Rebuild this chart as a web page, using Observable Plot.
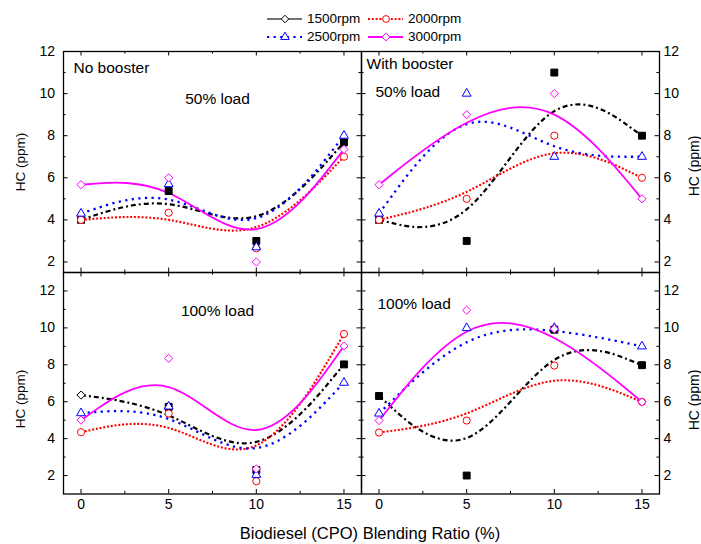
<!DOCTYPE html>
<html>
<head>
<meta charset="utf-8">
<script src="https://cdn.jsdelivr.net/npm/d3@7"></script>
<script src="https://cdn.jsdelivr.net/npm/@observablehq/plot@0.6"></script>
<style>
  html, body { margin: 0; padding: 0; background: #fff; overflow: hidden; }
  #fig { position: relative; width: 701px; height: 544px; font-family: "Liberation Sans", Arial, sans-serif; color: #000; }
  #fig svg { position: absolute; left: 0; top: 0; }
  .lbl { position: absolute; white-space: nowrap; line-height: 1; }
  .rot { transform: translate(-50%, -50%) rotate(-90deg); }
  .leg { position: absolute; font-size: 13.5px; line-height: 1; white-space: nowrap; }
</style>
</head>
<body>
<div id="fig"></div>
<script>
// ---------- data ----------
const blends = [0, 5, 10, 15];
const series = ["1500rpm", "2000rpm", "2500rpm", "3000rpm"];
const xTickLabels = [0, 5, 10, 15];
const yTickLabels = [2, 4, 6, 8, 10, 12];

// No booster, 50% load
const nb50_1500 = [4.0, 5.37, 3.0, 7.68];
const nb50_2000 = [4.0, 4.34, 2.65, 7.0];
const nb50_2500 = [4.3, 5.7, 2.7, 8.0];
const nb50_3000 = [5.67, 6.0, 2.0, 7.35];

// With booster, 50% load
const wb50_1500 = [4.0, 3.0, 11.0, 8.0];
const wb50_2000 = [4.0, 5.0, 8.0, 6.0];
const wb50_2500 = [4.3, 10.0, 7.0, 7.0];
const wb50_3000 = [5.67, 9.0, 10.0, 5.0];

// No booster, 100% load
const nb100_1500 = [6.36, 5.72, 2.3, 8.02];
const nb100_2000 = [4.35, 5.36, 1.69, 9.67];
const nb100_2500 = [5.38, 5.74, 2.04, 7.03];
const nb100_3000 = [5.0, 8.35, 2.36, 9.02];

// With booster, 100% load
const wb100_1500 = [6.31, 2.0, 9.9, 7.98];
const wb100_2000 = [4.33, 4.98, 7.96, 5.99];
const wb100_2500 = [5.36, 9.99, 10.0, 9.0];
const wb100_3000 = [4.98, 10.96, 9.94, 5.99];

// ---------- styling ----------
const W = 701, H = 544;
const FONT = '"Liberation Sans", Arial, sans-serif';
const sty = {
  "1500rpm": {stroke: "#000000", dash: "5,3,2,3", sw: 2.2, symbol: "square", fill: "#000000", r: 3.9},
  "2000rpm": {stroke: "#ff0000", dash: "2,1.8", sw: 2.1, symbol: "circle", fill: "white", r: 3.6},
  "2500rpm": {stroke: "#0000ff", dash: "2.2,4.4", sw: 2.3, symbol: "triangle", fill: "white", r: 3.3},
  "3000rpm": {stroke: "#ff00ff", dash: null, sw: 1.8, symbol: "diamond2", fill: "white", r: 3.7}
};

function rowsOf(vals) {
  const out = [];
  series.forEach((s, i) => vals[i].forEach((v, j) => out.push({series: s, blend: blends[j], hc: v})));
  return out;
}

const fig = document.getElementById("fig");
const xMinor = [2.5, 7.5, 12.5];

function panel({vals, yDomain, fx0, fx1, fy0, fy1, xAxis, ySide, notes, openBlack = []}) {
  const rows = rowsOf(vals);
  const fw = fx1 - fx0, fh = fy1 - fy0;
  const yMinor = d3.range(Math.ceil(yDomain[0]), Math.floor(yDomain[1]) + 1).filter(v => v % 2 === 1 && v > yDomain[0] && v < yDomain[1]);
  const maj = 4.5, mnr = 2.6;
  const tk = {stroke: "black", strokeWidth: 1};
  const marks = [
    Plot.frame({stroke: "black", strokeWidth: 1.3}),
    Plot.tickX(xTickLabels, {x: d => d, insetTop: fh - maj, ...tk}),
    Plot.tickX(xTickLabels, {x: d => d, insetBottom: fh - maj, ...tk}),
    Plot.tickX(xMinor, {x: d => d, insetTop: fh - mnr, ...tk}),
    Plot.tickX(xMinor, {x: d => d, insetBottom: fh - mnr, ...tk}),
    Plot.tickY(yTickLabels, {y: d => d, insetRight: fw - maj, ...tk}),
    Plot.tickY(yTickLabels, {y: d => d, insetLeft: fw - maj, ...tk}),
    Plot.tickY(yMinor, {y: d => d, insetRight: fw - mnr, ...tk}),
    Plot.tickY(yMinor, {y: d => d, insetLeft: fw - mnr, ...tk})
  ];
  for (const s of series) {
    const st = sty[s];
    marks.push(Plot.line(rows.filter(d => d.series === s), {
      x: "blend", y: "hc", curve: "basis", stroke: st.stroke, strokeWidth: st.sw,
      strokeDasharray: st.dash, strokeLinecap: "butt"
    }));
  }
  for (const s of series) {
    const st = sty[s];
    const pts = rows.filter(d => d.series === s);
    const isOpen = d => s === "1500rpm" && openBlack.includes(d.blend);
    marks.push(Plot.dot(pts.filter(d => !isOpen(d)), {
      x: "blend", y: "hc", symbol: st.symbol, r: st.r, stroke: st.stroke, fill: st.fill, strokeWidth: 1
    }));
    if (s === "1500rpm") {
      marks.push(Plot.dot(pts.filter(isOpen), {
        x: "blend", y: "hc", symbol: "diamond2", r: 3.7, stroke: "#000", fill: "white", strokeWidth: 1
      }));
    }
  }
  for (const n of notes) {
    marks.push(Plot.text([n.text], {
      text: d => d, frameAnchor: "top-left", dx: n.dx, dy: n.dy,
      textAnchor: n.anchor || "start", lineAnchor: "middle", fontSize: 15.5, fill: "black"
    }));
  }
  const svg = Plot.plot({
    width: W, height: H,
    marginLeft: fx0, marginRight: W - fx1, marginTop: fy0, marginBottom: H - fy1,
    style: {background: "transparent", fontSize: "14px", fontFamily: FONT, color: "black", overflow: "visible"},
    x: {domain: [-1, 16], axis: xAxis ? "bottom" : null, ticks: xTickLabels, tickSize: 0, tickPadding: 5.5, label: null, tickFormat: d => String(d)},
    y: {domain: yDomain, axis: ySide, ticks: yTickLabels, tickSize: 0, tickPadding: ySide === "left" ? 8.5 : 4, label: null, tickFormat: d => String(d)},
    marks
  });
  fig.appendChild(svg);
}

const L0 = 63, MID = 361, R1 = 659, T0 = 51, YM = 272, B1 = 493.5;

panel({vals: [nb50_1500, nb50_2000, nb50_2500, nb50_3000], yDomain: [1.5, 12],
  fx0: L0, fx1: MID, fy0: T0, fy1: YM, xAxis: false, ySide: "left",
  notes: [{text: "No booster", dx: 10, dy: 17}, {text: "50% load", dx: 154, dy: 48, anchor: "middle"}]});
panel({vals: [wb50_1500, wb50_2000, wb50_2500, wb50_3000], yDomain: [1.5, 12],
  fx0: MID, fx1: R1, fy0: T0, fy1: YM, xAxis: false, ySide: "right",
  notes: [{text: "With booster", dx: 5, dy: 13}, {text: "50% load", dx: 14, dy: 40.5}]});
panel({vals: [nb100_1500, nb100_2000, nb100_2500, nb100_3000], yDomain: [1, 13],
  fx0: L0, fx1: MID, fy0: YM, fy1: B1, xAxis: true, ySide: "left", openBlack: [0],
  notes: [{text: "100% load", dx: 154, dy: 38.5, anchor: "middle"}]});
panel({vals: [wb100_1500, wb100_2000, wb100_2500, wb100_3000], yDomain: [1, 13],
  fx0: MID, fx1: R1, fy0: YM, fy1: B1, xAxis: true, ySide: "right",
  notes: [{text: "100% load", dx: 16, dy: 31.5}]});

// ---------- axis titles ----------
function addLabel(text, x, y, size, rotate) {
  const d = document.createElement("div");
  d.className = "lbl" + (rotate ? " rot" : "");
  d.textContent = text;
  d.style.fontSize = size + "px";
  d.style.left = x + "px";
  d.style.top = y + "px";
  if (!rotate) d.style.transform = "translate(-50%, -50%)";
  fig.appendChild(d);
}
addLabel("Biodiesel (CPO) Blending Ratio (%)", 370, 533, 16.5, false);
addLabel("HC (ppm)", 21, 162, 13.5, true);
addLabel("HC (ppm)", 21, 399, 13.5, true);
addLabel("HC (ppm)", 693.5, 166, 14, true);
addLabel("HC (ppm)", 693.5, 400, 14, true);

// ---------- legend ----------
const legendPos = [
  {s: "1500rpm", x: 267, y: 19}, {s: "2000rpm", x: 368, y: 19},
  {s: "2500rpm", x: 267, y: 37}, {s: "3000rpm", x: 368, y: 37}
];
const NS = "http://www.w3.org/2000/svg";
for (const p of legendPos) {
  const st = sty[p.s];
  const svg = document.createElementNS(NS, "svg");
  svg.setAttribute("width", 36); svg.setAttribute("height", 12);
  svg.style.position = "absolute";
  svg.style.left = p.x + "px"; svg.style.top = (p.y - 6) + "px";
  const ln = document.createElementNS(NS, "line");
  ln.setAttribute("x1", 0); ln.setAttribute("x2", 35); ln.setAttribute("y1", 6); ln.setAttribute("y2", 6);
  const isBlack = p.s === "1500rpm";
  ln.setAttribute("stroke", isBlack ? "#444" : st.stroke);
  ln.setAttribute("stroke-width", isBlack ? 1.5 : 2);
  if (!isBlack && st.dash) ln.setAttribute("stroke-dasharray", st.dash);
  svg.appendChild(ln);
  const sym = document.createElementNS(NS, "path");
  const symType = isBlack ? d3.symbolDiamond2 : (st.symbol === "circle" ? d3.symbolCircle : st.symbol === "triangle" ? d3.symbolTriangle : d3.symbolDiamond2);
  const rr = isBlack ? 3.4 : st.r * 0.95;
  sym.setAttribute("d", d3.symbol(symType, Math.PI * rr * rr)());
  sym.setAttribute("transform", "translate(18,6)");
  sym.setAttribute("fill", "white");
  sym.setAttribute("stroke", isBlack ? "#000" : st.stroke);
  sym.setAttribute("stroke-width", 1);
  svg.appendChild(sym);
  fig.appendChild(svg);
  const t = document.createElement("div");
  t.className = "leg";
  t.textContent = p.s;
  t.style.left = (p.x + 40) + "px";
  t.style.top = (p.y - 7) + "px";
  fig.appendChild(t);
}
</script>
</body>
</html>
